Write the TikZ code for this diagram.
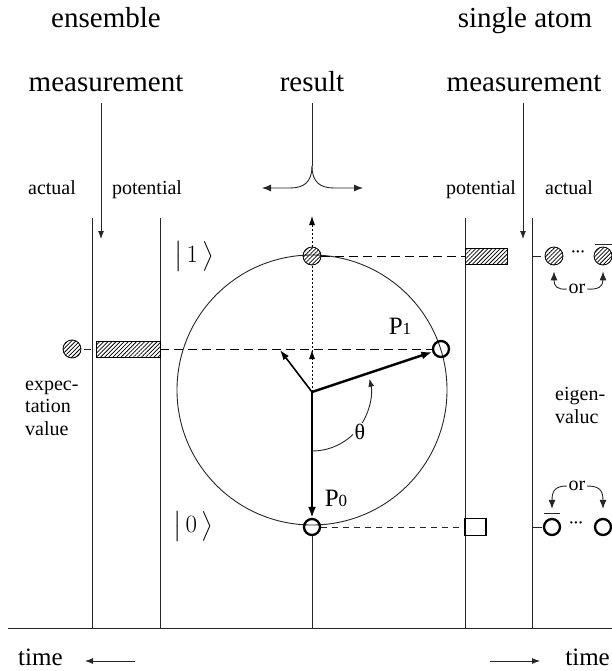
\documentclass[tikz,border=0pt]{standalone}
\usepackage{amsmath}
\usepackage{fontspec}
\setmainfont{Liberation Serif}
\usetikzlibrary{arrows.meta,patterns.meta}
\begin{document}
\begin{tikzpicture}[x=1pt,y=-1pt,
  vline/.style={draw=black!85,line width=0.9pt},
  tipA/.style={-{Latex[length=8pt,width=6pt]}},
  vecline/.style={draw=black,line width=2.4pt,-{Latex[length=11pt,width=8pt]}},
  medvec/.style={draw=black,line width=1.6pt,-{Latex[length=10pt,width=7pt]}},
  hatchfill/.style={pattern={Lines[angle=45,distance=2.9pt,line width=0.75pt]}},
  hatchatom/.style={circle,draw=black,line width=0.8pt,minimum size=18pt,inner sep=0pt,hatchfill},
  openatom/.style={circle,draw=black,line width=2.3pt,minimum size=16pt,inner sep=0pt},
  hatchbar/.style={rectangle,draw=black,line width=0.8pt,inner sep=0pt,hatchfill},
  bigtxt/.style={font=\fontsize{29}{34}\selectfont,inner sep=0pt,anchor=base},
  smalltxt/.style={font=\fontsize{20}{24}\selectfont,inner sep=0pt,anchor=base},
  kettxt/.style={font=\fontsize{28}{34}\selectfont,inner sep=0pt},
  longdash/.style={draw=black,line width=0.9pt,dash pattern=on 9pt off 5pt},
  shortdash/.style={draw=black!85,line width=0.7pt,dash pattern=on 6pt off 5pt},
  dotline/.style={draw=black,line width=0.8pt,dash pattern=on 2pt off 2pt}]
\useasboundingbox (0,0) rectangle (612,671);

% headings
\node[bigtxt] (ens) at (106,28) {ensemble};
\node[bigtxt] (meas1) at (106,92) {measurement};
\node[bigtxt] (res) at (312,92) {result};
\node[bigtxt] (sing) at (525,28) {single atom};
\node[bigtxt] (meas2) at (524,92) {measurement};

\node[smalltxt] (act1) at (52,194) {actual};
\node[smalltxt] (pot1) at (147,194) {potential};
\node[smalltxt] (pot2) at (481,194) {potential};
\node[smalltxt] (act2) at (569,194) {actual};

% measurement arrows
\coordinate (m1a) at (101,103);
\coordinate (m1b) at (101,239);
\coordinate (m2a) at (523,103);
\coordinate (m2b) at (523,239);
\draw[vline,tipA] (m1a) -- (m1b);
\draw[vline,tipA] (m2a) -- (m2b);

% vertical time lines
\draw[vline] (92,218) -- (92,628);
\draw[vline] (160,218) -- (160,628);
\draw[vline] (465,218) -- (465,628);
\draw[vline] (532,218) -- (532,628);
\draw[vline] (8,628) -- (612,628);

% result fork
\coordinate (fa) at (312,103);
\coordinate (fj) at (312,166);
\coordinate (fl) at (262,188);
\coordinate (fr) at (363,188);
\draw[vline] (fa) -- (fj);
\draw[vline,-{Latex[length=9pt,width=7pt]}] (fj) .. controls (312,182) and (304,188) .. (290,188) -- (fl);
\draw[vline,-{Latex[length=9pt,width=7pt]}] (fj) .. controls (312,182) and (320,188) .. (334,188) -- (fr);

% Bloch circle
\draw[vline] (312,390) circle[radius=135];

\coordinate (O) at (312,392);
\node[hatchatom] (c1) at (312,256) {};
\node[openatom] (c0) at (312,527) {};
\node[openatom] (p1) at (441,349) {};

% bars
\node[hatchbar,minimum width=64pt,minimum height=16pt] (lbar) at (128,349) {};
\node[hatchbar,minimum width=42pt,minimum height=16pt] (rbar) at (486,256) {};
\node[rectangle,draw=black,line width=1.8pt,minimum width=21pt,minimum height=17pt,inner sep=0pt] (obox) at (475.5,527) {};

% dashed projections
\draw[longdash] (lbar.east) -- (p1);
\draw[longdash] (c1) -- (rbar.west);
\draw[shortdash] (c0) -- (obox.west);

% dotted axis
\coordinate (utop) at (312,216);
\coordinate (uin) at (312,350);
\draw[dotline] (O) -- (c1);
\draw[dotline,-{Latex[length=9pt,width=6pt]}] (c1) -- (utop);
\draw[dotline,-{Latex[length=9pt,width=6pt]}] (O) -- (uin);
\draw[vline] (c0) -- (312,628);

% vectors
\coordinate (ul) at (280,350);
\draw[vecline] (O) -- (p1);
\draw[vecline] (O) -- (c0);
\draw[medvec] (O) -- (ul);

% theta arc
\draw[vline,-{Latex[length=8pt,width=6pt]}] (O) ++(90:59) arc[start angle=90,end angle=-13,radius=59];
\node[fill=white,inner sep=1.5pt,font=\fontsize{22}{24}\selectfont] (th) at (360,432) {θ};

% labels
\node[inner sep=0pt,anchor=base] (lp1) at (400,334) {\fontsize{25}{28}\selectfont P\fontsize{17}{20}\selectfont 1};
\node[inner sep=0pt,anchor=base] (lp0) at (336,506) {\fontsize{25}{28}\selectfont P\fontsize{17}{20}\selectfont 0};
\node[kettxt] (k1) at (194,256) {$\bigl|\,1\,\bigr\rangle$};
\node[kettxt] (k0) at (193,526) {$\bigl|\,0\,\bigr\rangle$};

% left expectation value
\node[hatchatom] (la) at (72,349) {};
\draw[vline,shorten <=3pt] (la) -- (91,349);
\node[smalltxt,anchor=base west] (ex1) at (25,390) {expec-};
\node[smalltxt,anchor=base west] (ex2) at (25,412) {tation};
\node[smalltxt,anchor=base west] (ex3) at (25,435) {value};

% right single atom results
\draw[vline] (532,256) -- (541,256);
\node[hatchatom] (ra1) at (554,256) {};
\node[inner sep=0pt,font=\fontsize{14}{14}\selectfont\bfseries] (rd1) at (578,254) {···};
\node[hatchatom] (ra2) at (603,256) {};
\draw[vline] (595,244) -- (612,244);
\node[smalltxt,anchor=center,inner sep=1.5pt] (or1) at (577,289) {or};
\draw[vline,-{Latex[length=9pt,width=7pt]},shorten >=6pt] (or1.west) .. controls (557,290) and (554,286) .. (ra1.south);
\draw[vline,-{Latex[length=9pt,width=7pt]},shorten >=6pt] (or1.east) .. controls (599,290) and (603,286) .. (ra2.south);

\draw[vline] (532,527) -- (542,527);
\node[openatom] (rb1) at (552,527) {};
\node[inner sep=0pt,font=\fontsize{14}{14}\selectfont\bfseries] (rd2) at (576,525) {···};
\node[openatom] (rb2) at (603,527) {};
\draw[vline] (544,513) -- (560,513);
\node[smalltxt,anchor=center,inner sep=1.5pt] (or2) at (577,486) {or};
\draw[vline,-{Latex[length=9pt,width=7pt]},shorten >=9pt] (or2.west) .. controls (556,486) and (552,490) .. (rb1.north);
\draw[vline,-{Latex[length=9pt,width=7pt]},shorten >=9pt] (or2.east) .. controls (599,486) and (603,490) .. (rb2.north);

\node[smalltxt,anchor=base west] (eg1) at (555,400) {eigen-};
\node[smalltxt,anchor=base west] (eg2) at (555,423) {valuc};

% time axis
\node[inner sep=0pt,anchor=base west,font=\fontsize{25}{28}\selectfont] (tl) at (18,665) {time};
\node[inner sep=0pt,anchor=base east,font=\fontsize{25}{28}\selectfont] (tr) at (610,665) {time};
\coordinate (tla) at (135,661);
\coordinate (tlb) at (85,661);
\coordinate (tra) at (490,661);
\coordinate (trb) at (540,661);
\draw[vline,tipA] (tla) -- (tlb);
\draw[vline,tipA] (tra) -- (trb);
\end{tikzpicture}
\end{document}
